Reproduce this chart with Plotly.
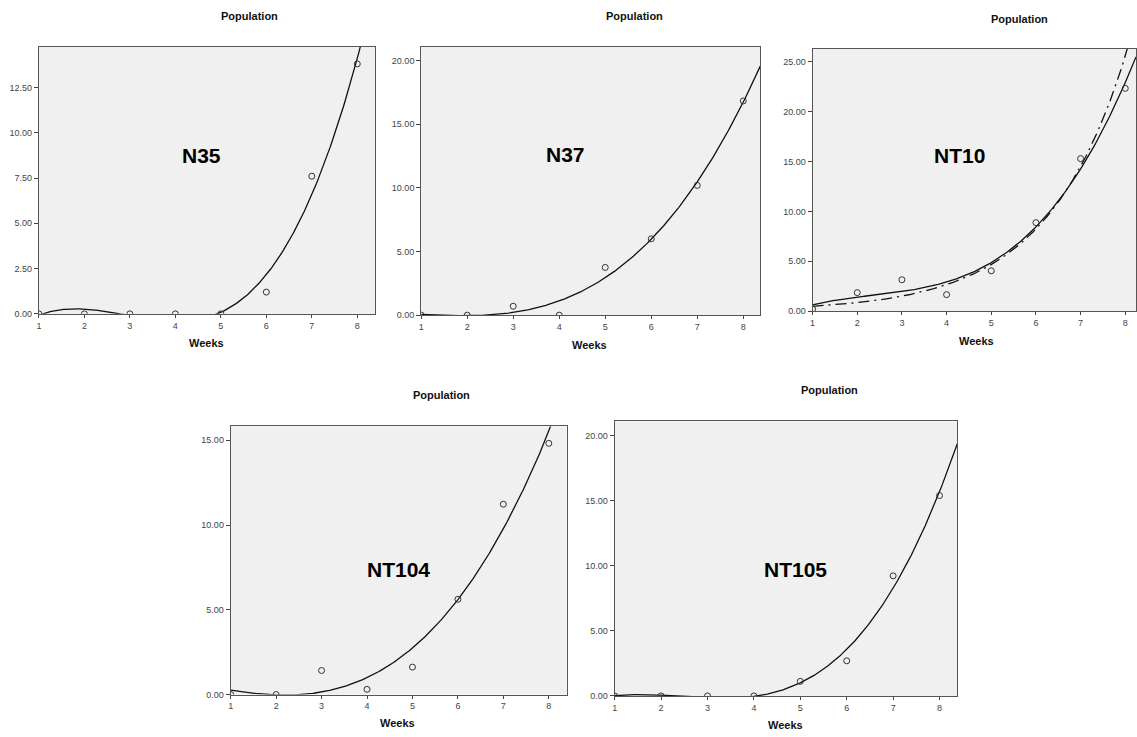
import numpy as np
import plotly.graph_objects as go

W, H = 1137, 737

weeks = [1, 2, 3, 4, 5, 6, 7, 8]
pop_N35 = [0.0, 0.0, 0.0, 0.0, 0.0, 1.2, 7.6, 13.8]
pop_N37 = [0.0, 0.0, 0.7, 0.0, 3.75, 6.0, 10.2, 16.84]
pop_NT10 = [0.2, 1.86, 3.15, 1.66, 4.05, 8.88, 15.3, 22.35]
pop_NT104 = [0.0, 0.0, 1.42, 0.31, 1.62, 5.62, 11.23, 14.82]
pop_NT105 = [0.0, 0.0, 0.0, 0.0, 1.12, 2.7, 9.23, 15.4]

panel_names = ["N35", "N37", "NT10", "NT104", "NT105"]
panel_values = [pop_N35, pop_N37, pop_NT10, pop_NT104, pop_NT105]
y_dticks = [2.5, 5, 5, 5, 5]

# layout geometry (pixels): left, right, top, bottom of plot box
boxes = [
    (36, 373, 47, 316),
    (419.3, 759.3, 47.3, 317.3),
    (811.7, 1136, 49.3, 313.3),
    (228.3, 565, 429.3, 699.3),
    (613.3, 956.7, 424.3, 700.7),
]
x_max = [8.39, 8.37, 8.24, 8.39, 8.38]
y_max = [14.75, 21.08, 26.3, 15.82, 21.1]
title_pos = [(247, 16), (633, 16), (1019, 19), (440, 398), (829, 393)]
weeks_pos = [(204, 345), (588, 347), (976, 343), (396, 728), (785, 730)]
label_pos = [(199, 157), (564, 156), (959, 157), (397, 573), (795, 573)]

fig = go.Figure()
annotations = []

def px(x):
    return x / W

def py(y):
    return 1 - y / H

font_small = "Liberation Sans, Arial, sans-serif"

def label(pos, text, size, color):
    return dict(x=px(pos[0]), y=py(pos[1]), xref="paper", yref="paper",
                xanchor="center", yanchor="middle", text=text, showarrow=False,
                font=dict(family=font_small, size=size, color=color))

for i, (name, vals) in enumerate(zip(panel_names, panel_values)):
    k = "" if i == 0 else str(i + 1)
    xa, ya = "x" + k, "y" + k
    x = np.array(weeks, dtype=float)
    y = np.array(vals, dtype=float)
    xs = np.linspace(1, x_max[i], 300)
    coef = np.polyfit(x, y, 3)
    fig.add_trace(go.Scatter(x=xs, y=np.polyval(coef, xs), mode="lines",
                             line=dict(color="#111111", width=1.3),
                             xaxis=xa, yaxis=ya, showlegend=False, hoverinfo="skip"))
    if name == "NT10":
        b = np.polyfit(x, np.log(y), 1)
        fig.add_trace(go.Scatter(x=xs, y=np.exp(np.polyval(b, xs)), mode="lines",
                                 line=dict(color="#111111", width=1.3, dash="11px,5px,2px,5px"),
                                 xaxis=xa, yaxis=ya, showlegend=False, hoverinfo="skip"))
    fig.add_trace(go.Scatter(x=weeks, y=vals, mode="markers", cliponaxis=True,
                             marker=dict(symbol="circle-open", size=6,
                                         color="#333333", line=dict(width=1)),
                             xaxis=xa, yaxis=ya, showlegend=False))
    l, r, t, b_ = boxes[i]
    common = dict(showline=True, linecolor="#555555", linewidth=1, mirror=True,
                  showgrid=False, zeroline=False, ticks="outside",
                  tickcolor="#444444", tickwidth=1,
                  tickfont=dict(family=font_small, size=9, color="#444444"))
    fig.update_layout(**{
        "xaxis" + k: dict(domain=[px(l), px(r)], range=[1, x_max[i]], anchor=ya,
                          tickmode="linear", tick0=1, dtick=1, ticklen=3, **common),
        "yaxis" + k: dict(domain=[py(b_), py(t)], range=[0, y_max[i]], anchor=xa,
                          tickmode="linear", tick0=0, dtick=y_dticks[i], tickformat=".2f",
                          ticklen=4, **common),
    })
    annotations.append(label(title_pos[i], "<b>Population</b>", 11, "#111111"))
    annotations.append(label(weeks_pos[i], "<b>Weeks</b>", 11, "#111111"))
    annotations.append(label(label_pos[i], "<b>" + name + "</b>", 21, "#000000"))

fig.update_layout(width=W, height=H, margin=dict(l=0, r=0, t=0, b=0),
                  paper_bgcolor="white", plot_bgcolor="#f0f0f0",
                  annotations=annotations, showlegend=False)

fig.write_html("out.html", config={"displayModeBar": False},
               post_script="document.body.style.margin='0';document.body.style.overflow='hidden';")
